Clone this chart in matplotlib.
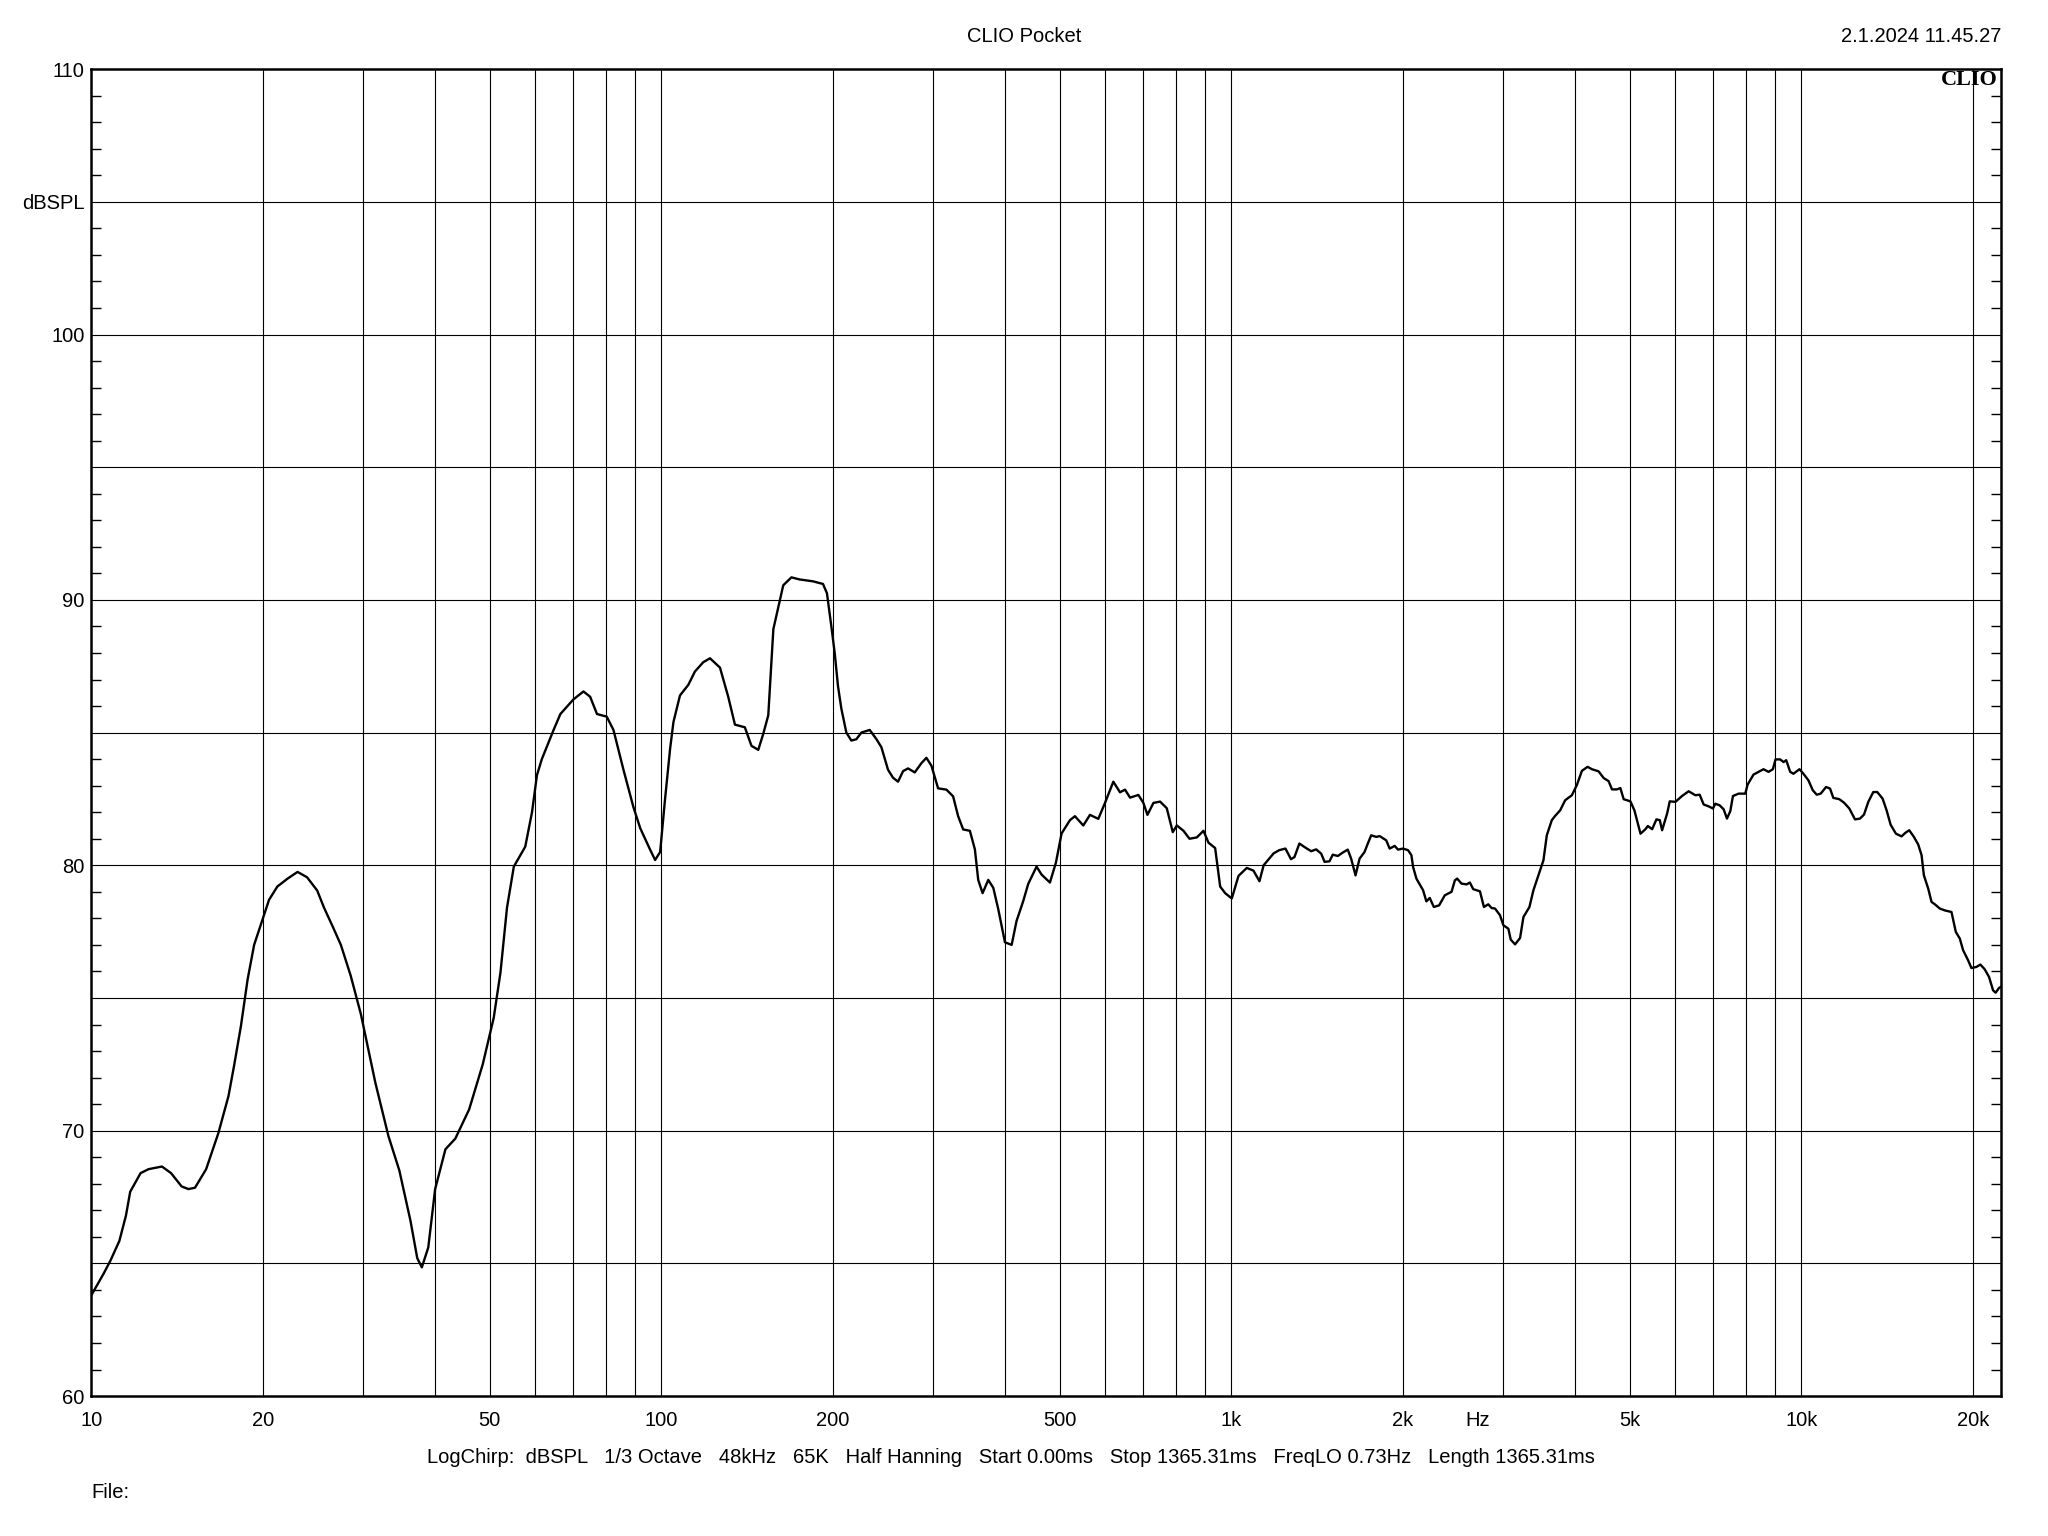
import numpy as np
import matplotlib
matplotlib.use('Agg')
import matplotlib.pyplot as plt
from matplotlib.ticker import FixedLocator, NullLocator, NullFormatter

plt.rcParams['font.family'] = ['Liberation Sans', 'DejaVu Sans']

# frequency response
freq = [10.0, 10.5, 10.8, 11.2, 11.5, 11.7, 12.2, 12.6, 13.3, 13.8, 14.4, 14.8, 15.2, 15.9,
        16.7, 17.4, 17.8, 18.3, 18.8, 19.3, 20.0, 20.5, 21.2, 22.1, 23.0, 23.9, 24.9, 25.6,
        26.5, 27.4, 28.5, 29.7, 31.5, 33.2, 34.7, 36.3, 37.3, 38.0, 39.0, 40.1, 41.8, 43.5,
        46.0, 48.6, 50.8, 52.2, 53.6, 55.1, 57.7, 59.3, 60.5, 61.7, 64.7, 66.5, 70.1, 73.0,
        75.0, 77.1, 80.2, 82.4, 85.8, 89.3, 91.8, 95.5, 97.5, 99.5, 101.5, 103.6, 105.0,
        107.8, 111.5, 114.5, 118.4, 121.7, 126.7, 131.0, 134.6, 140.1, 143.9, 147.9, 150.9,
        154.0, 157.2, 163.6, 169.1, 174.8, 184.5, 192.1, 195.2, 198.7, 201.4, 204.1, 206.9,
        211.1, 215.4, 219.8, 224.3, 232.0, 238.4, 243.2, 249.8, 254.9, 260.1, 265.5, 270.9,
        278.3, 285.9, 291.7, 297.7, 305.8, 316.3, 324.9, 331.6, 338.4, 347.7, 354.8, 359.6,
        366.0, 374.5, 382.2, 389.9, 400.6, 411.6, 419.8, 431.3, 440.1, 455.2, 464.5, 480.4,
        492.2, 503.6, 520.9, 531.5, 549.7, 564.8, 584.1, 600.1, 620.7, 637.6, 650.7, 664.0,
        686.8, 700.8, 712.3, 729.8, 749.7, 770.2, 789.1, 802.1, 824.0, 844.2, 869.6, 893.3,
        911.6, 936.4, 955.6, 975.0, 1001.6, 1029, 1064, 1093, 1120, 1139, 1186,
        1213, 1244, 1272, 1290, 1316, 1343, 1380, 1408, 1437, 1457, 1486, 1506, 1537, 1568,
        1600, 1622, 1651, 1678, 1712, 1735, 1759, 1795, 1820, 1869, 1895, 1934, 1960, 2000,
        2041, 2069, 2083, 2111, 2169, 2198, 2228, 2265, 2314, 2368, 2433, 2466, 2489, 2533,
        2585, 2620, 2656, 2729, 2773, 2822, 2861, 2900, 2959, 3000, 3061, 3090, 3145, 3209,
        3253, 3333, 3387, 3456, 3527, 3575, 3648, 3697, 3773, 3850, 3956, 4036, 4120, 4215,
        4290, 4407, 4497, 4589, 4652, 4747, 4812, 4877, 5011, 5093,
        5220, 5325, 5377, 5471, 5567, 5643, 5696, 5812, 5875, 6010, 6173, 6341, 6514, 6629,
        6737, 6874, 6995, 7061, 7186, 7303, 7402, 7502, 7583, 7758, 7970, 8045, 8241, 8408,
        8580, 8755, 8910, 9006, 9176, 9302, 9403, 9556, 9683, 9920, 10080, 10287, 10467,
        10636, 10809, 11045, 11224, 11376, 11654, 11876, 12134, 12414, 12668, 12874, 13101,
        13366, 13584, 13880, 14106, 14336, 14647, 14985, 15229, 15456, 15750, 16029, 16245,
        16399, 16688, 16913, 17140, 17489, 17847, 18332, 18655, 18958, 19213, 19605, 19869,
        20274, 20603, 20967, 21337, 21683, 21915, 22212, 22400]

spl = [63.8, 64.6, 65.1, 65.85, 66.8, 67.7, 68.4, 68.55, 68.65, 68.4, 67.9, 67.8, 67.85, 68.55,
       69.9, 71.3, 72.45, 73.95, 75.7, 77.0, 78.0, 78.7, 79.2, 79.5, 79.75, 79.55, 79.05, 78.4,
       77.7, 77.0, 75.85, 74.4, 71.8, 69.8, 68.5, 66.6, 65.2, 64.85, 65.6, 67.8, 69.3, 69.7,
       70.8, 72.5, 74.25, 75.95, 78.4, 79.95, 80.7, 82.0, 83.4, 84.0, 85.1, 85.7, 86.25, 86.55,
       86.35, 85.7, 85.6, 85.1, 83.6, 82.2, 81.4, 80.6, 80.2, 80.5, 82.5, 84.4, 85.4,
       86.4, 86.8, 87.3, 87.65, 87.8, 87.45, 86.35, 85.3, 85.2, 84.5, 84.35, 84.95,
       85.65, 88.9, 90.55, 90.85, 90.77, 90.7, 90.6, 90.25, 89.0, 88.0, 86.75, 85.9,
       85.0, 84.7, 84.75, 85.0, 85.1, 84.75, 84.45, 83.6, 83.3, 83.15, 83.55, 83.65,
       83.5, 83.85, 84.05, 83.75, 82.9, 82.85, 82.6, 81.85, 81.35, 81.3, 80.6, 79.45,
       78.95, 79.45, 79.15, 78.35, 77.1, 77.0, 77.9, 78.65, 79.3, 79.95, 79.65, 79.35,
       80.1, 81.2, 81.7, 81.85, 81.5, 81.9, 81.75, 82.35, 83.15, 82.75, 82.85, 82.55,
       82.65, 82.35, 81.9, 82.35, 82.4, 82.15, 81.25, 81.5, 81.3, 81.0, 81.05, 81.3,
       80.85, 80.65, 79.2, 78.95, 78.75, 79.6, 79.9, 79.8, 79.4, 80.0, 80.45,
       80.57, 80.63, 80.23, 80.31, 80.82, 80.69, 80.53, 80.6, 80.44, 80.13, 80.15, 80.4, 80.35, 80.48,
       80.59, 80.25, 79.62, 80.25, 80.5, 80.82, 81.13, 81.07, 81.1, 80.94, 80.63, 80.73, 80.59, 80.63,
       80.57, 80.38, 79.94, 79.5, 79.06, 78.64, 78.77, 78.43, 78.49, 78.87, 79.0, 79.43, 79.5, 79.31,
       79.28, 79.35, 79.1, 79.02, 78.43, 78.53, 78.39, 78.37, 78.12, 77.74, 77.61, 77.2, 77.02, 77.26,
       78.05, 78.43, 79.06, 79.62, 80.19, 81.13, 81.7, 81.86, 82.07, 82.45, 82.64, 83.02, 83.56, 83.71,
       83.62, 83.54, 83.29, 83.17, 82.86, 82.86, 82.91, 82.49, 82.41, 82.07,
       81.19, 81.36, 81.48, 81.36, 81.73, 81.7, 81.32, 81.95, 82.41, 82.39, 82.61, 82.79, 82.64, 82.66,
       82.29, 82.22, 82.14, 82.32, 82.26, 82.11, 81.76, 82.04, 82.61, 82.7, 82.7, 83.04, 83.42, 83.52,
       83.62, 83.52, 83.62, 83.99, 83.99, 83.89, 83.96, 83.52, 83.45, 83.62, 83.45, 83.2, 82.83,
       82.66, 82.7, 82.95, 82.89, 82.54, 82.49, 82.36, 82.14, 81.73, 81.76, 81.91, 82.39,
       82.76, 82.76, 82.51, 82.07, 81.53, 81.19, 81.09, 81.23, 81.32, 81.07, 80.78, 80.38,
       79.62, 79.12, 78.62, 78.53, 78.37, 78.3, 78.24, 77.49, 77.24, 76.8, 76.42, 76.13,
       76.17, 76.26, 76.08, 75.79, 75.29, 75.2, 75.38, 75.42]

x_grid = [20, 30, 40, 50, 60, 70, 80, 90, 100, 200, 300, 400, 500, 600, 700, 800, 900,
          1000, 2000, 3000, 4000, 5000, 6000, 7000, 8000, 9000, 10000, 20000]
x_lab_pos = [10, 20, 50, 100, 200, 500, 1000, 2000, 5000, 10000, 20000]
x_lab_txt = ['10', '20', '50', '100', '200', '500', '1k', '2k', '5k', '10k', '20k']
y_major = [60, 65, 70, 75, 80, 85, 90, 95, 100, 105, 110]
y_major_txt = ['60', '', '70', '', '80', '', '90', '', '100', 'dBSPL', '110']

fs = 14.5

fig = plt.figure(figsize=(20.48, 15.36), dpi=100)
ax = fig.add_axes([0.0446, 0.0911, 0.9325, 0.8639])

ax.set_xscale('log')
ax.set_xlim(10, 22400)
ax.set_ylim(60, 110)

for xv in x_grid:
    ax.axvline(xv, color='black', linewidth=0.8, zorder=1)
for yv in y_major[1:-1]:
    ax.axhline(yv, color='black', linewidth=0.8, zorder=1)

ax.plot(freq, spl, color='black', linewidth=1.7, zorder=3)

ax.xaxis.set_major_locator(FixedLocator(x_lab_pos))
ax.set_xticklabels(x_lab_txt)
ax.xaxis.set_minor_locator(NullLocator())
ax.xaxis.set_minor_formatter(NullFormatter())
ax.tick_params(axis='x', which='major', length=0, pad=11, labelsize=fs)

ax.set_yticks(y_major)
ax.set_yticklabels(y_major_txt)
ax.yaxis.set_minor_locator(FixedLocator(np.arange(60, 111, 1)))
ax.tick_params(axis='y', which='major', length=0, pad=5, labelsize=fs)
ax.tick_params(axis='y', which='minor', direction='in', length=7, width=1.0,
               left=True, right=True)

for s in ax.spines.values():
    s.set_linewidth(1.8)

ax.annotate('Hz', xy=(2700, 60), xytext=(0, -11), textcoords='offset points',
            ha='center', va='top', fontsize=fs)

ax.text(0.998, 0.999, 'CLIO', transform=ax.transAxes, ha='right', va='top',
        fontsize=16, fontweight='bold', family='Liberation Serif')

fig.text(0.5, 0.9765, 'CLIO Pocket', ha='center', va='center', fontsize=fs)
fig.text(0.977, 0.9765, '2.1.2024 11.45.27', ha='right', va='center', fontsize=fs)
fig.text(0.4936, 0.0510,
         'LogChirp:  dBSPL   1/3 Octave   48kHz   65K   Half Hanning   Start 0.00ms   '
         'Stop 1365.31ms   FreqLO 0.73Hz   Length 1365.31ms',
         ha='center', va='center', fontsize=fs)
fig.text(0.0446, 0.0283, 'File:', ha='left', va='center', fontsize=fs)

fig.savefig('out.png', dpi=100, facecolor='white')
